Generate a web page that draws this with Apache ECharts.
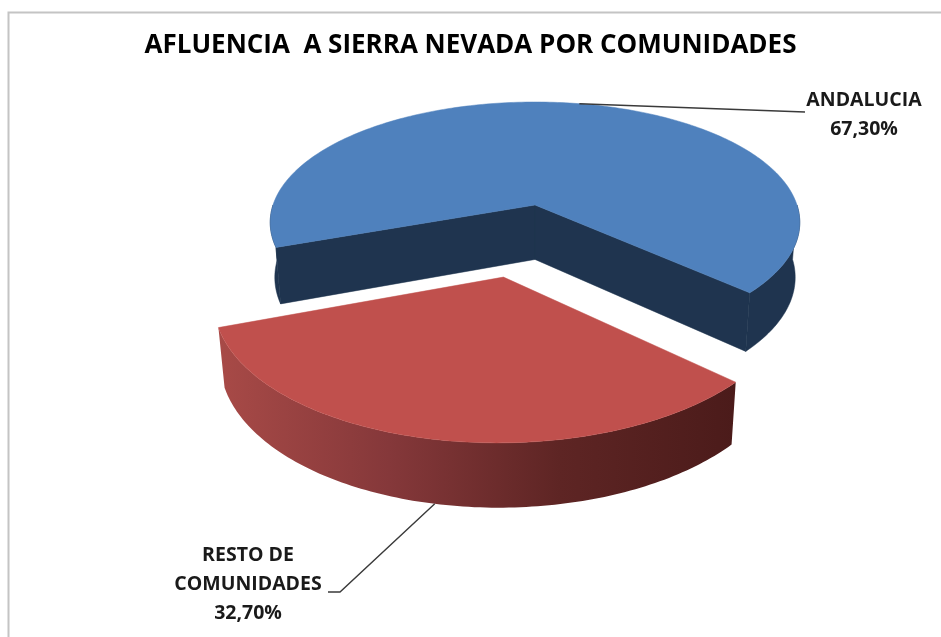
<!DOCTYPE html>
<html>
<head>
<meta charset="utf-8">
<script src="https://cdn.jsdelivr.net/npm/echarts@6/dist/echarts.min.js"></script>
<style>
  html, body { margin: 0; padding: 0; background: #fff; }
  #chart { width: 941px; height: 637px; }
</style>
</head>
<body>
<div id="chart"></div>
<script>
// data
const categories = ['ANDALUCIA', 'RESTO DE\nCOMUNIDADES'];
const values = [67.3, 32.7];
const explode = [0, 150];

// 3d view
const CX = 535, CY = 205;
const R = 262, H = 62;
const sinE = 0.45, cosE = Math.sqrt(1 - sinE * sinE);
const D = 1617;
const START = 160;
const FONT = '"Open Sans", "DejaVu Sans", sans-serif';

const topColors = ['#4F81BD', '#C0504D'];
const sideColors = [
  '#1F344F',
  { type: 'linear', x: 0, y: 0, x2: 1, y2: 0, colorStops: [
    { offset: 0, color: '#A84A47' },
    { offset: 0.33, color: '#85383A' },
    { offset: 0.66, color: '#5E2524' },
    { offset: 1, color: '#4B1B1A' }
  ] }
];
const labelPos = [[864, 115], [248, 584]];
const leaderEnds = [[[805, 112]], [[340, 592], [328, 592]]];

const rad = d => d * Math.PI / 180;

function project(X, Y, Z) {
  const yc = Y * cosE - Z * sinE;
  const zc = Y * sinE + Z * cosE;
  const s = D / (D - zc);
  return [CX + X * s, CY - yc * s];
}

function pct(v) {
  return v.toFixed(2).replace('.', ',') + '%';
}

// parts of [a, b] where the outer wall faces us (sin > 0)
function frontRanges(a, b) {
  const out = [];
  for (let k = Math.floor(a / 360) - 1; k <= Math.ceil(b / 360); k++) {
    const lo = Math.max(a, k * 360), hi = Math.min(b, k * 360 + 180);
    if (hi > lo) out.push([lo, hi]);
  }
  return out;
}

function renderItem(params, api) {
  const i = params.dataIndex;
  const total = values.reduce((s, v) => s + v, 0);
  let start = START;
  for (let j = 0; j < i; j++) start += values[j] / total * 360;
  const end = start + api.value(0) / total * 360;
  const mid = (start + end) / 2;
  const ox = explode[i] * Math.cos(rad(mid));
  const oz = explode[i] * Math.sin(rad(mid));
  const P = (t, Y) => project(ox + R * Math.cos(rad(t)), Y, oz + R * Math.sin(rad(t)));
  const C = Y => project(ox, Y, oz);
  const arc = (a, b, Y) => {
    const n = Math.max(2, Math.ceil(Math.abs(b - a)));
    const pts = [];
    for (let k = 0; k <= n; k++) pts.push(P(a + (b - a) * k / n, Y));
    return pts;
  };

  const children = [];
  // cut faces
  if (Math.cos(rad(start)) < 0) {
    children.push({ type: 'polygon', shape: { points: [C(0), P(start, 0), P(start, -H), C(-H)] },
      style: { fill: sideColors[0], stroke: sideColors[0], lineWidth: 0.5 } });
  }
  if (Math.cos(rad(end)) > 0) {
    children.push({ type: 'polygon', shape: { points: [C(0), P(end, 0), P(end, -H), C(-H)] },
      style: { fill: sideColors[0], stroke: sideColors[0], lineWidth: 0.5 } });
  }
  // outer wall
  frontRanges(start, end).forEach(([u, v]) => {
    const pts = arc(u, v, 0).concat(arc(v, u, -H));
    children.push({ type: 'polygon', shape: { points: pts },
      style: { fill: sideColors[i], stroke: i === 0 ? sideColors[0] : null, lineWidth: 0.5 } });
  });
  // top
  children.push({ type: 'polygon', shape: { points: [C(0)].concat(arc(start, end, 0)) },
    style: { fill: topColors[i], stroke: topColors[i], lineWidth: 0.5 } });

  // leader + label
  const anchor = Math.sin(rad(mid)) < 0 ? P(mid, 0) : P(mid, -H);
  children.push({ type: 'polyline', shape: { points: [anchor].concat(leaderEnds[i]) },
    style: { stroke: '#3a3a3a', lineWidth: 1.4, fill: null } });
  children.push({ type: 'text', style: {
    text: categories[i] + '\n' + pct(api.value(0)),
    x: labelPos[i][0], y: labelPos[i][1],
    align: 'center', verticalAlign: 'middle',
    fontFamily: FONT, fontWeight: 'bold', fontSize: 19.5, lineHeight: 29,
    fill: '#1a1a1a'
  } });
  return { type: 'group', children };
}

const chart = echarts.init(document.getElementById('chart'));
chart.setOption({
  animation: false,
  backgroundColor: '#fff',
  title: {
    text: 'AFLUENCIA  A SIERRA NEVADA POR COMUNIDADES',
    left: 'center', top: 28,
    textStyle: { fontFamily: FONT, fontWeight: 'bold', fontSize: 26, color: '#000' }
  },
  graphic: [{
    type: 'rect', left: 6, top: 10,
    shape: { width: 1000, height: 700 },
    style: { fill: null, stroke: '#C4C4C4', lineWidth: 2 }
  }],
  series: [{
    type: 'custom',
    coordinateSystem: 'none',
    renderItem: renderItem,
    data: values.map((v, i) => ({ name: categories[i], value: v }))
  }]
});
</script>
</body>
</html>
